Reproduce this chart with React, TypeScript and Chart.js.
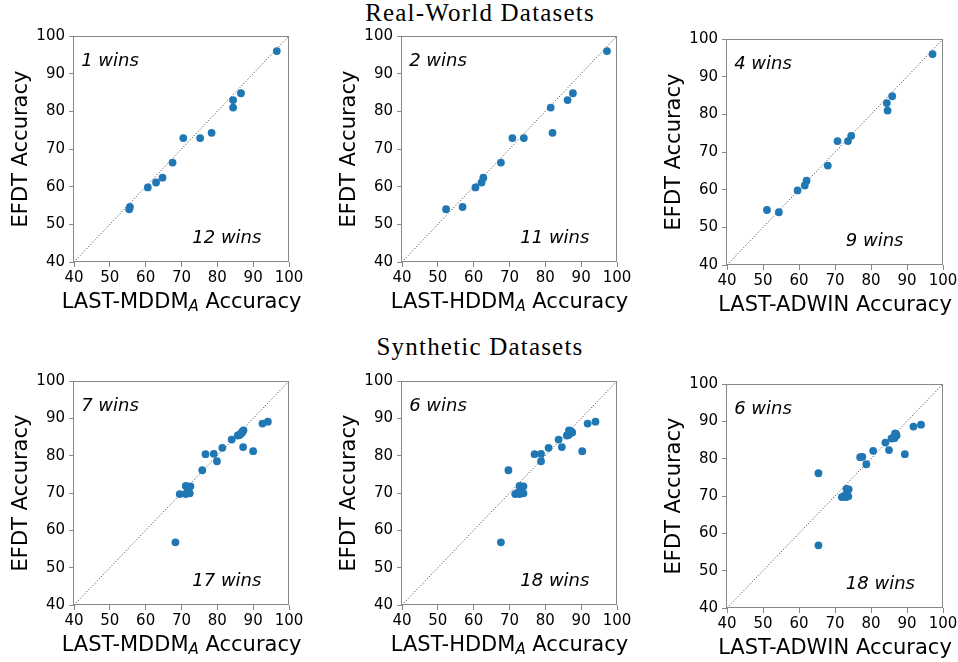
import React, { useEffect, useRef } from "react";
import { Chart, registerables } from "chart.js";
Chart.register(...registerables);

// EFDT accuracy (y) shared within each group
const realEfdt = [96.0, 84.8, 83.0, 81.0, 74.3, 72.9, 72.9, 66.4, 62.4, 61.1, 59.8, 54.6, 54.0];
const realMddm = [96.6, 86.6, 84.4, 84.4, 78.4, 70.5, 75.2, 67.5, 64.7, 62.9, 60.6, 55.6, 55.4];
const realHddm = [97.2, 87.7, 86.2, 81.5, 82.0, 70.8, 74.0, 67.6, 62.7, 62.2, 60.5, 56.9, 52.3];
const realAdwin = [97.1, 85.9, 84.4, 84.6, 74.5, 70.7, 73.6, 68.0, 62.1, 61.6, 59.6, 51.1, 54.4];

const synthEfdt = [89.1, 88.6, 86.8, 86.2, 85.7, 85.4, 84.3, 82.3, 82.1, 81.2, 80.5, 80.4, 78.5, 76.1, 71.9, 71.8, 69.9, 69.7, 69.7, 56.8, 70.0, 70.1, 85.5, 86.5];
const synthMddm = [94.1, 92.6, 87.3, 86.9, 86.4, 85.7, 84.0, 87.2, 81.4, 90.0, 79.0, 76.7, 79.9, 75.8, 71.2, 72.5, 72.3, 69.5, 71.2, 68.3, 71.5, 72.0, 86.0, 87.0];
const synthHddm = [94.0, 91.8, 86.6, 87.5, 86.6, 86.0, 83.7, 84.6, 80.9, 90.3, 78.8, 77.0, 78.8, 69.7, 72.8, 73.9, 73.9, 71.6, 72.8, 67.6, 72.2, 73.4, 86.3, 87.2];
const synthAdwin = [93.9, 91.8, 86.7, 87.1, 86.3, 85.7, 84.0, 85.0, 80.6, 89.4, 77.6, 77.0, 78.7, 65.4, 73.2, 73.8, 73.7, 71.9, 73.0, 65.4, 72.5, 73.4, 86.5, 87.0];

const axisTicks = [40, 50, 60, 70, 80, 90, 100];
const groupTitles = ["Real-World Datasets", "Synthetic Datasets"];
const xNames = ["LAST-MDDM", "LAST-HDDM", "LAST-ADWIN"];
const xSubs = ["A", "A", ""];
const yName = "EFDT Accuracy";
const topWins = ["1 wins", "2 wins", "4 wins", "7 wins", "6 wins", "6 wins"];
const bottomWins = ["12 wins", "11 wins", "9 wins", "17 wins", "18 wins", "18 wins"];
const topWinsPos = [42, 92];
const bottomWinsPos = [73, 45];

const FONT = "'DejaVu Sans', sans-serif";

type PanelDef = {
  l: number; t: number; r: number; b: number;
  xs: number[]; ys: number[];
  xName: string; xSub: string; topText: string; bottomText: string;
};

const panels: PanelDef[] = [
  { l: 74, t: 36, r: 289, b: 262, xs: realMddm, ys: realEfdt, xName: xNames[0], xSub: xSubs[0], topText: topWins[0], bottomText: bottomWins[0] },
  { l: 402, t: 36, r: 617, b: 262, xs: realHddm, ys: realEfdt, xName: xNames[1], xSub: xSubs[1], topText: topWins[1], bottomText: bottomWins[1] },
  { l: 727, t: 39, r: 943, b: 265, xs: realAdwin, ys: realEfdt, xName: xNames[2], xSub: xSubs[2], topText: topWins[2], bottomText: bottomWins[2] },
  { l: 74, t: 381, r: 289, b: 605, xs: synthMddm, ys: synthEfdt, xName: xNames[0], xSub: xSubs[0], topText: topWins[3], bottomText: bottomWins[3] },
  { l: 402, t: 381, r: 617, b: 605, xs: synthHddm, ys: synthEfdt, xName: xNames[1], xSub: xSubs[1], topText: topWins[4], bottomText: bottomWins[4] },
  { l: 727, t: 384, r: 943, b: 608, xs: synthAdwin, ys: synthEfdt, xName: xNames[2], xSub: xSubs[2], topText: topWins[5], bottomText: bottomWins[5] },
];

const PAD_L = 70, PAD_T = 20, PAD_R = 25, PAD_B = 60;

function ScatterPanel({ p }: { p: PanelDef }) {
  const ref = useRef<HTMLCanvasElement>(null);
  useEffect(() => {
    if (!ref.current) return;
    const decor = {
      id: "decor",
      afterDraw(chart: any) {
        const { ctx, chartArea: a, scales } = chart;
        ctx.save();
        // frame
        ctx.strokeStyle = "#888";
        ctx.lineWidth = 1;
        const L = Math.round(a.left) - 0.5, T = Math.round(a.top) + 0.5;
        const R = Math.round(a.right) - 0.5, B = Math.round(a.bottom) - 0.5;
        ctx.strokeRect(L, T, R - L, B - T);
        // win texts
        ctx.fillStyle = "#000";
        ctx.font = `italic 18px ${FONT}`;
        ctx.textAlign = "left";
        ctx.textBaseline = "alphabetic";
        ctx.fillText(p.topText, scales.x.getPixelForValue(topWinsPos[0]), scales.y.getPixelForValue(topWinsPos[1]));
        ctx.fillText(p.bottomText, scales.x.getPixelForValue(bottomWinsPos[0]), scales.y.getPixelForValue(bottomWinsPos[1]));
        // y title
        ctx.save();
        ctx.translate(a.left - 47, (a.top + a.bottom) / 2);
        ctx.rotate(-Math.PI / 2);
        ctx.font = `21px ${FONT}`;
        ctx.textAlign = "center";
        ctx.fillText(yName, 0, 0);
        ctx.restore();
        // x title with subscript
        const main1 = p.xName;
        const main2 = " Accuracy";
        ctx.font = `21px ${FONT}`;
        const w1 = ctx.measureText(main1).width;
        const w2 = ctx.measureText(main2).width;
        ctx.font = `italic 15px ${FONT}`;
        const ws = p.xSub ? ctx.measureText(p.xSub).width : 0;
        const total = w1 + ws + w2;
        let x = (a.left + a.right) / 2 - total / 2;
        const base = a.bottom + 46;
        ctx.textAlign = "left";
        ctx.font = `21px ${FONT}`;
        ctx.fillText(main1, x, base);
        x += w1;
        if (p.xSub) {
          ctx.font = `italic 15px ${FONT}`;
          ctx.fillText(p.xSub, x, base + 3);
          x += ws;
        }
        ctx.font = `21px ${FONT}`;
        ctx.fillText(main2, x, base);
        ctx.restore();
      },
    };
    const tickFont = { family: FONT, size: 15 };
    const chart = new Chart(ref.current, {
      type: "scatter",
      data: {
        datasets: [
          {
            type: "line",
            data: [
              { x: axisTicks[0], y: axisTicks[0] },
              { x: axisTicks[axisTicks.length - 1], y: axisTicks[axisTicks.length - 1] },
            ],
            borderColor: "#333",
            borderWidth: 1,
            borderDash: [1, 2],
            pointRadius: 0,
            fill: false,
            order: 2,
          } as any,
          {
            data: p.xs.map((x, i) => ({ x, y: p.ys[i] })),
            backgroundColor: "#1f77b4",
            borderWidth: 0,
            pointRadius: 3.9,
            order: 1,
          },
        ],
      },
      options: {
        responsive: false,
        animation: false,
        layout: { padding: { left: 0, top: PAD_T, right: PAD_R, bottom: 0 } },
        plugins: { legend: { display: false }, tooltip: { enabled: false } },
        scales: {
          x: {
            type: "linear",
            min: axisTicks[0],
            max: axisTicks[axisTicks.length - 1],
            afterFit: (s: any) => { s.height = PAD_B; },
            afterBuildTicks: (s: any) => { s.ticks = axisTicks.map((v) => ({ value: v })); },
            ticks: { font: tickFont, color: "#000", padding: 2, maxRotation: 0, autoSkip: false },
            grid: { drawOnChartArea: false, drawTicks: true, tickLength: 5, color: "#888" },
            border: { display: false },
          },
          y: {
            type: "linear",
            min: axisTicks[0],
            max: axisTicks[axisTicks.length - 1],
            afterFit: (s: any) => { s.width = PAD_L; },
            afterBuildTicks: (s: any) => { s.ticks = axisTicks.map((v) => ({ value: v })); },
            ticks: { font: tickFont, color: "#000", padding: 4, autoSkip: false },
            grid: { drawOnChartArea: false, drawTicks: true, tickLength: 5, color: "#888" },
            border: { display: false },
          },
        },
      } as any,
      plugins: [decor],
    });
    return () => chart.destroy();
  }, [p]);
  const w = p.r - p.l + PAD_L + PAD_R;
  const h = p.b - p.t + PAD_T + PAD_B;
  return (
    <canvas
      ref={ref}
      width={w}
      height={h}
      style={{ position: "absolute", left: p.l - PAD_L, top: p.t - PAD_T, width: w, height: h }}
    />
  );
}

export default function App() {
  const titleStyle: React.CSSProperties = {
    position: "absolute",
    left: 0,
    width: 960,
    textAlign: "center",
    fontFamily: "'Liberation Serif', serif",
    fontSize: 25,
    lineHeight: "25px",
    letterSpacing: "1.2px",
    color: "#000",
    whiteSpace: "nowrap",
  };
  return (
    <div style={{ position: "absolute", left: 0, top: 0, width: 958, height: 662, background: "#fff", overflow: "hidden" }}>
      <div style={{ ...titleStyle, top: 0 }}>{groupTitles[0]}</div>
      <div style={{ ...titleStyle, top: 334 }}>{groupTitles[1]}</div>
      {panels.map((p, i) => (
        <ScatterPanel key={i} p={p} />
      ))}
    </div>
  );
}
